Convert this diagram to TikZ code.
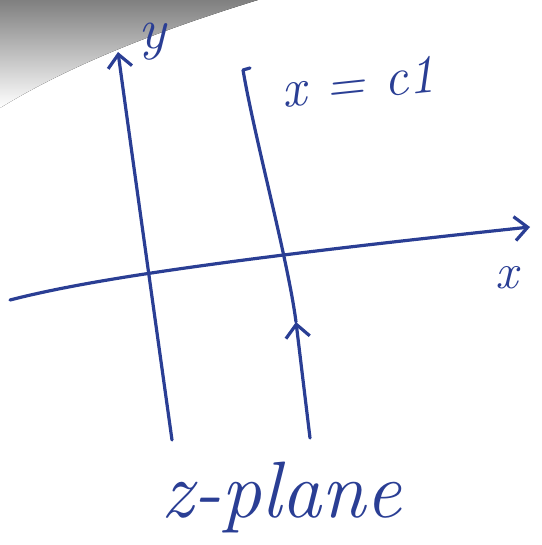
\documentclass[tikz,border=0pt]{standalone}
\usepackage{fontspec}
\usepackage{tikz}
\usetikzlibrary{arrows.meta, positioning}
\definecolor{ink}{RGB}{42,62,148}
\definecolor{shade}{RGB}{160,160,170}
\tikzset{
    pen/.style={draw=ink, line width=3.2pt, line cap=round, line join=round},
    axis/.style={pen, -{Straight Barb[length=13pt, width=24pt, line width=3.2pt]}},
    handtext/.style={text=ink, inner sep=0pt}
}

\begin{document}
\begin{tikzpicture}[x=1pt, y=-1pt]
    \useasboundingbox (0,0) rectangle (541,545);

    % Shadow of the photo in the corner
    \fill[shade] (0,0) -- (258,0) .. controls (160,30) and (70,65) .. (0,108) -- cycle;

    % Axes
    \coordinate (xstart) at (10,300);
    \coordinate (xend) at (530,227);
    \coordinate (ystart) at (172,440);
    \coordinate (yend) at (118,52);
    \draw[axis] (xstart) .. controls (80,282) and (200,262) .. (xend);
    \draw[axis] (ystart) .. controls (158,340) and (130,140) .. (yend);

    % Line x = c1 with its direction arrow
    \coordinate (cbottom) at (310,438);
    \coordinate (cmid) at (296,322);
    \coordinate (ctop) at (243,70);
    \coordinate (chook) at (250,68);
    \draw[axis] (cbottom) -- (cmid);
    \draw[pen] (cmid) .. controls (288,260) and (255,140) .. (ctop) -- (chook);

    % Labels
    \node (ylabel) [handtext, font=\itshape\fontsize{58}{64}\selectfont] at (152,42) {y};
    \node (xlabel) [handtext, font=\itshape\fontsize{50}{56}\selectfont] at (507,278) {x};
    \node (linelabel) [handtext, font=\itshape\fontsize{54}{60}\selectfont, rotate=6] at (358,82) {x = c1};
    \node (planelabel) [handtext, font=\itshape\fontsize{80}{86}\selectfont] at (281,497) {z-plane};

\end{tikzpicture}
\end{document}
